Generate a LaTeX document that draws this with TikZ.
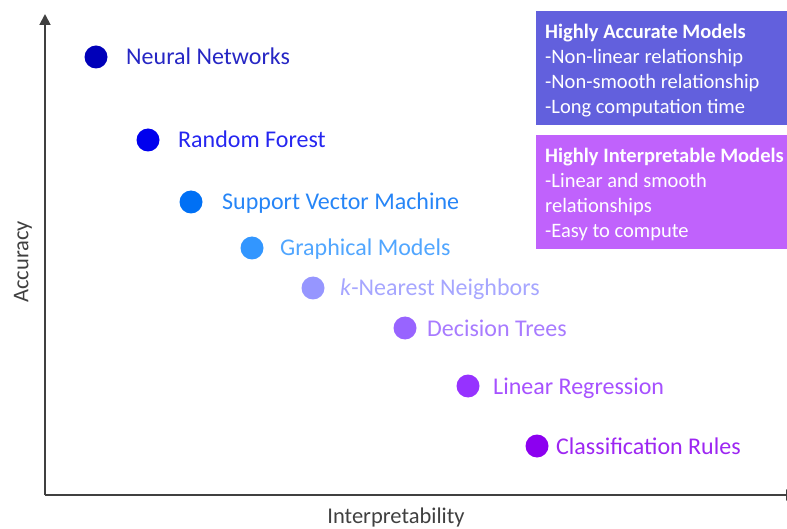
\documentclass[tikz,border=0pt]{standalone}
\usepackage{fontspec}
\setmainfont{Carlito}
\usetikzlibrary{arrows.meta,positioning}
\definecolor{axisgray}{RGB}{64,64,64}
\definecolor{accbox}{RGB}{98,96,221}
\definecolor{intbox}{RGB}{192,98,252}
\definecolor{cnn}{RGB}{0,0,185}
\definecolor{crf}{RGB}{0,0,238}
\definecolor{csvm}{RGB}{0,112,245}
\definecolor{cgm}{RGB}{50,150,255}
\definecolor{cknn}{RGB}{150,150,255}
\definecolor{cdt}{RGB}{152,100,255}
\definecolor{clr}{RGB}{150,50,255}
\definecolor{ccr}{RGB}{140,0,240}
\tikzset{
  dot/.style={circle,fill=#1,inner sep=0pt,minimum size=23pt},
  lbl/.style={anchor=west,inner sep=0pt,text height=16pt,text depth=0pt,
    font=\fontsize{24}{28}\selectfont,text=#1!85!white},
  axlbl/.style={inner sep=0pt,text=axisgray,font=\fontsize{22.5}{26}\selectfont},
  infobox/.style={anchor=north west,fill=#1,text=white,align=left,
    minimum width=262pt,minimum height=114pt,inner sep=0pt,
    text width=262pt,font=\fontsize{20.5}{25}\selectfont},
  boxtext/.style={anchor=north west,text=white,align=left,inner sep=0pt,
    font=\fontsize{20.5}{25}\selectfont},
  axis/.style={draw=axisgray,line width=1.8pt,-{Triangle[length=11pt,width=11pt]}}
}
\begin{document}
\begin{tikzpicture}[x=1pt,y=-1pt]
\useasboundingbox (0,0) rectangle (787,529);
% axes
\coordinate (o) at (45,495);
\coordinate (ytip) at (45,14);
\coordinate (xtip) at (797,495);
\draw[axis] (o) -- (ytip);
\draw[axis] (o) -- (xtip);
\node[axlbl,rotate=90] (acc) at (23,262) {Accuracy};
\node[axlbl] (interp) at (396,517) {Interpretability};
% models
\node[dot=cnn] (nn) at (96,57) {};
\node[dot=crf] (rf) at (148,140) {};
\node[dot=csvm] (svm) at (191,202) {};
\node[dot=cgm] (gm) at (252,248) {};
\node[dot=cknn] (knn) at (313,288) {};
\node[dot=cdt] (dt) at (405,328) {};
\node[dot=clr] (lr) at (468,386) {};
\node[dot=ccr] (cr) at (537,446) {};
\node[lbl=cnn] (nnl) at (126,57) {Neural Networks};
\node[lbl=crf] (rfl) at (178,140) {Random Forest};
\node[lbl=csvm] (svml) at (222,202) {Support Vector Machine};
\node[lbl=cgm] (gml) at (280,248) {Graphical Models};
\node[lbl=cknn] (knnl) at (340,288) {\textit{k}-Nearest Neighbors};
\node[lbl=cdt] (dtl) at (427,328) {Decision Trees};
\node[lbl=clr] (lrl) at (493,386) {Linear Regression};
\node[lbl=ccr] (crl) at (556,446) {Classification Rules};
% boxes
\node[infobox=accbox] (accb) at (536,11) {};
\node[boxtext] (acct) at (545,24)
  {\textbf{Highly Accurate Models}\\-Non-linear relationship\\-Non-smooth relationship\\-Long computation time};
\node[infobox=intbox] (intb) at (536,135) {};
\node[boxtext] (intt) at (545,148)
  {\textbf{Highly Interpretable Models}\\-Linear and smooth\\relationships\\-Easy to compute};
\end{tikzpicture}
\end{document}
